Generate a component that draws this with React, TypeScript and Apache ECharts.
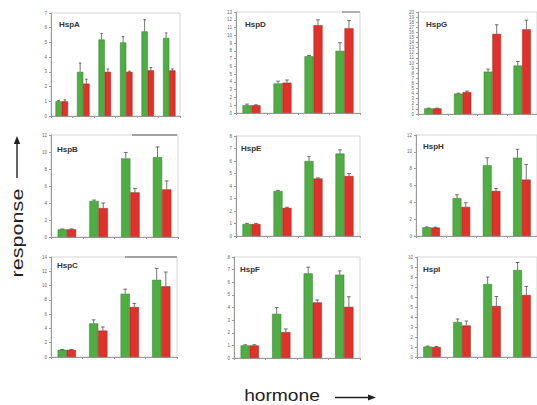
import React, { useEffect, useRef } from "react";
import * as echarts from "echarts";

// ---------- DATA ----------
const doses4 = ["1", "2", "3", "4"];
const doses6 = ["1", "2", "3", "4", "5", "6"];

const hspAGreen = [1.0, 3.0, 5.2, 5.0, 5.75, 5.3];
const hspARed = [1.0, 2.2, 3.0, 3.0, 3.1, 3.1];
const hspAGreenErr = [0.05, 0.6, 0.4, 0.4, 0.8, 0.35];
const hspARedErr = [0.1, 0.3, 0.2, 0.05, 0.2, 0.1];

const hspDGreen = [1.0, 3.8, 7.3, 8.0];
const hspDRed = [1.0, 3.9, 11.3, 10.9];
const hspDGreenErr = [0.15, 0.3, 0.1, 1.05];
const hspDRedErr = [0.05, 0.35, 0.7, 1.0];

const hspGGreen = [1.1, 4.0, 8.3, 9.5];
const hspGRed = [1.1, 4.3, 15.7, 16.6];
const hspGGreenErr = [0.05, 0.1, 0.5, 0.8];
const hspGRedErr = [0.05, 0.2, 1.8, 1.8];

const hspBGreen = [0.9, 4.25, 9.25, 9.4];
const hspBRed = [0.9, 3.4, 5.25, 5.6];
const hspBGreenErr = [0.05, 0.1, 0.7, 1.2];
const hspBRedErr = [0.05, 0.6, 0.45, 1.0];

const hspEGreen = [0.96, 3.6, 6.0, 6.6];
const hspERed = [0.96, 2.25, 4.6, 4.8];
const hspEGreenErr = [0.05, 0.05, 0.35, 0.3];
const hspERedErr = [0.05, 0.05, 0.05, 0.2];

const hspHGreen = [1.03, 4.5, 8.4, 9.3];
const hspHRed = [1.0, 3.45, 5.35, 6.7];
const hspHGreenErr = [0.05, 0.4, 0.9, 1.0];
const hspHRedErr = [0.05, 0.5, 0.3, 1.8];

const hspCGreen = [1.0, 4.7, 8.85, 10.8];
const hspCRed = [1.0, 3.7, 7.0, 9.9];
const hspCGreenErr = [0.05, 0.5, 0.65, 1.6];
const hspCRedErr = [0.05, 0.5, 0.5, 2.0];

const hspFGreen = [1.0, 3.5, 6.7, 6.6];
const hspFRed = [1.0, 2.05, 4.4, 4.05];
const hspFGreenErr = [0.05, 0.5, 0.5, 0.3];
const hspFRedErr = [0.05, 0.25, 0.2, 0.8];

const hspIGreen = [1.04, 3.5, 7.3, 8.7];
const hspIRed = [1.0, 3.15, 5.1, 6.2];
const hspIGreenErr = [0.05, 0.3, 0.7, 0.75];
const hspIRedErr = [0.05, 0.45, 0.95, 0.85];

const yMaxes = [7, 13, 20, 12, 8, 12, 14, 8, 10];
const yIntervals = [1, 1, 1, 2, 1, 2, 2, 1, 1];

// ---------- LAYOUT ----------
const panels = [
  { name: "HspA", cats: doses6, g: hspAGreen, r: hspARed, ge: hspAGreenErr, re: hspARedErr, box: [51, 13, 129, 103], title: [59, 20] },
  { name: "HspD", cats: doses4, g: hspDGreen, r: hspDRed, ge: hspDGreenErr, re: hspDRedErr, box: [236, 12, 124, 101], title: [245, 20] },
  { name: "HspG", cats: doses4, g: hspGGreen, r: hspGRed, ge: hspGGreenErr, re: hspGRedErr, box: [418, 12, 125, 102], title: [426, 20] },
  { name: "HspB", cats: doses4, g: hspBGreen, r: hspBRed, ge: hspBGreenErr, re: hspBRedErr, box: [51, 135, 127, 102], title: [57, 145] },
  { name: "HspE", cats: doses4, g: hspEGreen, r: hspERed, ge: hspEGreenErr, re: hspERedErr, box: [236, 136, 124, 100], title: [241, 144] },
  { name: "HspH", cats: doses4, g: hspHGreen, r: hspHRed, ge: hspHGreenErr, re: hspHRedErr, box: [416, 135, 125, 101], title: [423, 142] },
  { name: "HspC", cats: doses4, g: hspCGreen, r: hspCRed, ge: hspCGreenErr, re: hspCRedErr, box: [51, 257, 126, 100], title: [57, 261] },
  { name: "HspF", cats: doses4, g: hspFGreen, r: hspFRed, ge: hspFGreenErr, re: hspFRedErr, box: [234, 257, 126, 101], title: [240, 265] },
  { name: "HspI", cats: doses4, g: hspIGreen, r: hspIRed, ge: hspIGreenErr, re: hspIRedErr, box: [417, 257, 125, 100], title: [423, 265] },
];

const GREEN = "#4fae43";
const RED = "#e0312b";
const FONT = "'Liberation Sans', Arial, Helvetica, sans-serif";

function errSeries(i: number, vals: number[], errs: number[], sign: number) {
  return {
    type: "custom",
    xAxisIndex: i,
    yAxisIndex: i,
    z: 5,
    silent: true,
    encode: { x: 0, y: 1 },
    data: vals.map((v, k) => [k, v, errs[k]]),
    renderItem: (_params: any, api: any) => {
      const idx = api.value(0);
      const v = api.value(1);
      const e = api.value(2);
      const base = api.coord([idx, v]);
      const top = api.coord([idx, v + e]);
      const band = api.size([1, 0])[0];
      const x = base[0] + sign * band * 0.145;
      const cap = Math.max(1.2, band * 0.06);
      const st = { stroke: "#3a3a3a", lineWidth: 0.7 };
      return {
        type: "group",
        children: [
          { type: "line", shape: { x1: x, y1: base[1], x2: x, y2: top[1] }, style: st },
          { type: "line", shape: { x1: x - cap, y1: top[1], x2: x + cap, y2: top[1] }, style: st },
        ],
      };
    },
  };
}

export default function App() {
  const ref = useRef<HTMLDivElement>(null);
  useEffect(() => {
    document.body.style.margin = "0";
    if (!ref.current) return;
    const chart = echarts.init(ref.current, undefined, { renderer: "svg" });
    const grid: any[] = [];
    const xAxis: any[] = [];
    const yAxis: any[] = [];
    const series: any[] = [];
    const graphic: any[] = [];
    panels.forEach((p, i) => {
      const [l, t, w, h] = p.box;
      grid.push({ left: l, top: t, width: w, height: h, show: true, borderColor: "#d6d6d6", borderWidth: 1, backgroundColor: "transparent" });
      xAxis.push({
        type: "category",
        gridIndex: i,
        data: p.cats,
        axisLine: { lineStyle: { color: "#9a9a9a", width: 1 } },
        axisTick: { show: true, length: 2, lineStyle: { color: "#9a9a9a" } },
        axisLabel: { show: false },
      });
      yAxis.push({
        type: "value",
        gridIndex: i,
        min: 0,
        max: yMaxes[i],
        interval: yIntervals[i],
        splitLine: { show: false },
        axisLine: { show: true, lineStyle: { color: "#9a9a9a", width: 1 } },
        axisTick: { show: true, length: 2, lineStyle: { color: "#9a9a9a" } },
        axisLabel: { fontSize: 4.5, color: "#666", margin: 4, fontFamily: FONT },
      });
      series.push({
        type: "bar",
        name: p.name + " green",
        xAxisIndex: i,
        yAxisIndex: i,
        data: p.g,
        barGap: "0%",
        barCategoryGap: "42%",
        itemStyle: { color: GREEN, borderColor: "#2f7a28", borderWidth: 0.5 },
      });
      series.push({
        type: "bar",
        name: p.name + " red",
        xAxisIndex: i,
        yAxisIndex: i,
        data: p.r,
        barGap: "0%",
        barCategoryGap: "42%",
        itemStyle: { color: RED, borderColor: "#9c1f1a", borderWidth: 0.5 },
      });
      series.push(errSeries(i, p.g, p.ge, -1));
      series.push(errSeries(i, p.r, p.re, 1));
      graphic.push({
        type: "text",
        left: p.title[0],
        top: p.title[1],
        style: { text: p.name, font: `bold 8px ${FONT}`, fill: "#333" },
      });
    });
    // scanning-like darker top border segments
    graphic.push({ type: "line", shape: { x1: 132, y1: 135, x2: 177, y2: 135 }, style: { stroke: "#8a8a8a", lineWidth: 1.5 } });
    graphic.push({ type: "line", shape: { x1: 125, y1: 257, x2: 177, y2: 257 }, style: { stroke: "#8a8a8a", lineWidth: 1.5 } });
    graphic.push({ type: "line", shape: { x1: 342, y1: 12, x2: 360, y2: 12 }, style: { stroke: "#8a8a8a", lineWidth: 1.2 } });
    // axis titles and arrows
    graphic.push({
      type: "text",
      x: 18,
      y: 233,
      rotation: Math.PI / 2,
      scaleX: 1.35,
      style: { text: "response", font: `16px ${FONT}`, fill: "#222", textAlign: "center", textVerticalAlign: "middle" },
    });
    graphic.push({ type: "line", shape: { x1: 17, y1: 178, x2: 17, y2: 142 }, style: { stroke: "#222", lineWidth: 1.4 } });
    graphic.push({ type: "polygon", shape: { points: [[13.8, 144], [20.2, 144], [17, 136]] }, style: { fill: "#222" } });
    graphic.push({
      type: "text",
      x: 282,
      y: 396,
      scaleX: 1.2,
      style: { text: "hormone", font: `16px ${FONT}`, fill: "#222", textAlign: "center", textVerticalAlign: "middle" },
    });
    graphic.push({ type: "line", shape: { x1: 335, y1: 397.5, x2: 370, y2: 397.5 }, style: { stroke: "#222", lineWidth: 1.4 } });
    graphic.push({ type: "polygon", shape: { points: [[368, 394.5], [368, 400.5], [376, 397.5]] }, style: { fill: "#222" } });

    chart.setOption({
      animation: false,
      backgroundColor: "#ffffff",
      grid,
      xAxis,
      yAxis,
      series,
      graphic,
    });
    return () => chart.dispose();
  }, []);
  return <div ref={ref} style={{ width: 537, height: 405 }} />;
}
